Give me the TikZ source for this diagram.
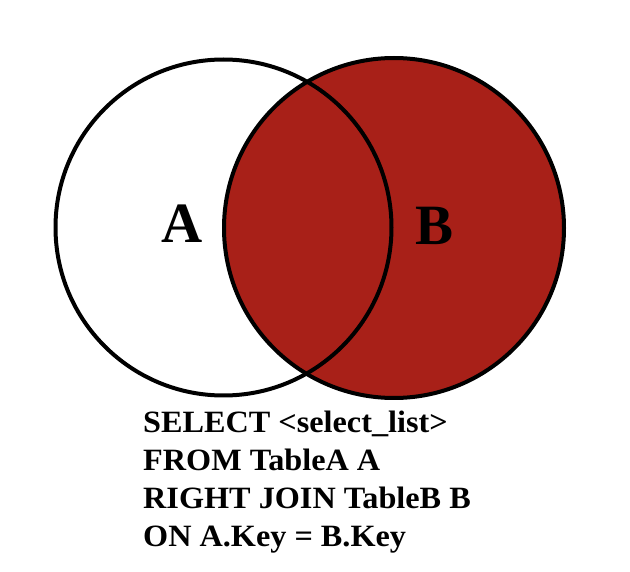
\documentclass[tikz,border=0pt]{standalone}
\usepackage{fontspec}
\setmainfont{Liberation Serif}
\definecolor{joinred}{RGB}{168,32,24}
\tikzset{
  setcircle/.style={draw=black, line width=4pt},
  setlabel/.style={font=\bfseries\fontsize{57}{60}\selectfont, anchor=base, inner sep=0pt},
  sqlline/.style={font=\bfseries\fontsize{31}{33}\selectfont, anchor=base west, inner sep=0pt, xscale=1.04, transform shape}
}
\begin{document}
\begin{tikzpicture}[x=1pt,y=-1pt]
\useasboundingbox (0,0) rectangle (630,572);
\fill[white] (0,0) rectangle (630,572);
\fill[joinred] (394,228) circle (170);
\draw[setcircle] (223.5,227.5) circle (168);
\draw[setcircle] (394,228) circle (170);
\node[setlabel] (la) at (182,243) {A};
\node[setlabel] (lb) at (435,245) {B};
\node[sqlline] (l1) at (143,432) {SELECT <select\_list>};
\node[sqlline] (l2) at (143,470) {FROM TableA A};
\node[sqlline] (l3) at (143,508) {RIGHT JOIN TableB B};
\node[sqlline] (l4) at (143,546) {ON A.Key = B.Key};
\end{tikzpicture}
\end{document}
